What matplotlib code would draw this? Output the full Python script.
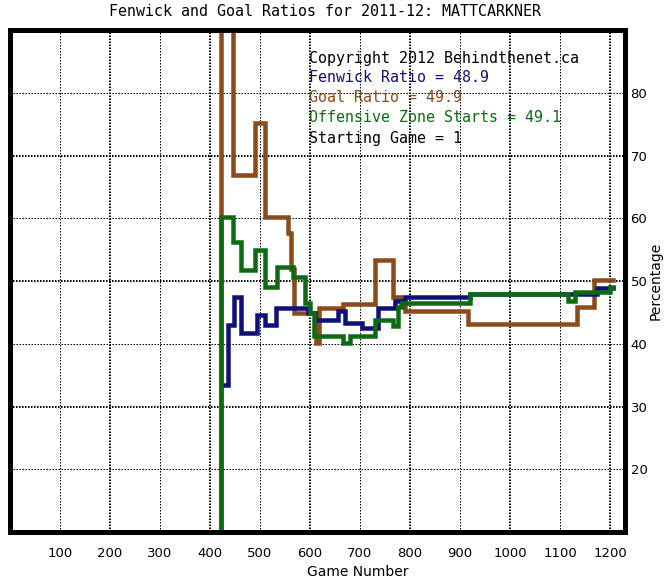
import matplotlib
matplotlib.use('Agg')
import matplotlib.pyplot as plt

# ---------------- data ----------------
title = "Fenwick and Goal Ratios for 2011-12: MATTCARKNER"
x_ticks = [100, 200, 300, 400, 500, 600, 700, 800, 900, 1000, 1100, 1200]
y_ticks = [20, 30, 40, 50, 60, 70, 80]

goal_games = [418, 422, 446, 490, 510, 556, 562, 568, 612, 618, 666, 730, 766, 782, 790, 916, 1134, 1168, 1206]
goal_vals = [0, 100, 67.0, 75.2, 60.3, 57.7, 52.0, 44.9, 40.2, 45.7, 46.3, 53.4, 47.5, 46.5, 45.3, 43.2, 45.9, 50.2, 50.2]

fen_games = [430, 436, 448, 462, 494, 510, 532, 596, 610, 656, 670, 704, 736, 770, 790, 920, 1174, 1206]
fen_vals = [33.4, 43.0, 47.5, 41.7, 44.6, 43.0, 45.7, 45.0, 43.8, 45.2, 43.3, 42.5, 45.7, 46.8, 47.45, 47.9, 48.9, 48.9]

oz_games = [418, 422, 446, 462, 490, 510, 534, 566, 590, 600, 608, 666, 680, 730, 766, 776, 784, 920, 1116, 1130, 1200, 1206]
oz_vals = [0, 60.3, 56.3, 51.8, 55.0, 49.1, 52.2, 50.7, 46.5, 45.0, 41.2, 40.2, 41.2, 43.8, 42.9, 45.9, 46.5, 48.0, 46.9, 48.3, 49.1, 49.1]

legend_lines = [
    ("Copyright 2012 Behindthenet.ca", "black"),
    ("Fenwick Ratio = 48.9", "#10107a"),
    ("Goal Ratio = 49.9", "#8b4a1c"),
    ("Offensive Zone Starts = 49.1", "#0d6a12"),
    ("Starting Game = 1", "black"),
]

FEN_C = "#10107a"
GOAL_C = "#8b4a1c"
OZ_C = "#0d6a12"

# ---------------- figure ----------------
W, H, DPI = 665, 580, 100
fig = plt.figure(figsize=(W / DPI, H / DPI), dpi=DPI)
ax = fig.add_axes([10 / W, 1 - 532 / H, 615 / W, 501.6 / H])
ax.set_xlim(0, 1230)
ax.set_ylim(10, 90)

px = 72 / DPI  # one pixel in points
# grid lines
for i, v in enumerate(x_ticks):
    if i % 2 == 0:
        ax.axvline(v, color='black', lw=1 * px, ls=(0, (1.5, 1.5)), zorder=1, snap=True)
    else:
        ax.axvline(v, color='black', lw=2 * px, ls=(0, (0.75, 0.75)), zorder=1, snap=True)
for i, v in enumerate(y_ticks):
    if v in (20, 40, 60, 80):
        ax.axhline(v, color='black', lw=1 * px, ls=(0, (1.5, 1.5)), zorder=1, snap=True)
    else:
        ax.axhline(v, color='black', lw=2 * px, ls=(0, (0.75, 0.75)), zorder=1, snap=True)

lw = 4.5 * px
ax.plot(goal_games, goal_vals, drawstyle='steps-post', color=GOAL_C, lw=lw,
        solid_joinstyle='miter', zorder=3)
ax.plot(fen_games, fen_vals, drawstyle='steps-post', color=FEN_C, lw=lw,
        solid_joinstyle='miter', zorder=4)
ax.plot(oz_games, oz_vals, drawstyle='steps-post', color=OZ_C, lw=lw,
        solid_joinstyle='miter', zorder=5)

for s in ax.spines.values():
    s.set_linewidth(5 * px)
    s.set_color('black')
    s.set_zorder(10)

ax.set_xticks(x_ticks)
ax.set_xticklabels([str(v) for v in x_ticks])
ax.set_yticks(y_ticks)
ax.set_yticklabels([str(v) for v in y_ticks])
ax.yaxis.tick_right()
ax.tick_params(axis='x', length=0, pad=11, labelsize=9.5)
ax.tick_params(axis='y', length=0, pad=4, labelsize=9.5)
ax.set_xlabel("Game Number", fontsize=10)
ax.xaxis.set_label_coords((358 - 10) / 615, (532 - 572) / 501.6)
ax.xaxis.label.set_va('center')
ax.yaxis.set_label_position('right')
ax.set_ylabel("Percentage", fontsize=10, labelpad=1)

fig.text(325 / W, 1 - 11 / H, title, ha='center', va='center',
         family='DejaVu Sans Mono', fontsize=10.8)

for k, (txt, c) in enumerate(legend_lines):
    fig.text(309 / W, 1 - (58 + 20 * k) / H, txt, ha='left', va='center',
             family='DejaVu Sans Mono', fontsize=10.8, color=c, zorder=20)

fig.savefig('out.png', dpi=DPI)
